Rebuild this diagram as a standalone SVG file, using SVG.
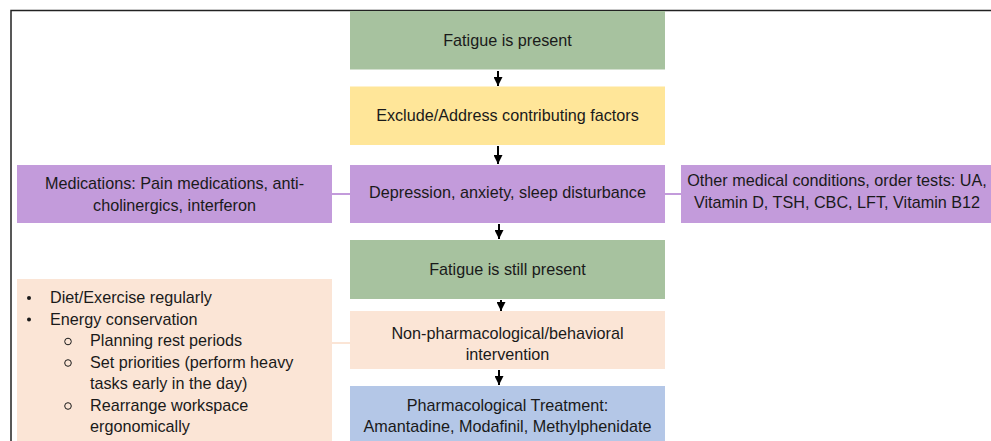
<svg xmlns="http://www.w3.org/2000/svg" width="991" height="441" viewBox="0 0 991 441">
<defs>
<style>
text{font-family:"Liberation Sans",Arial,sans-serif;font-size:16.2px;fill:#1a1a1a}
.c{text-anchor:middle}
.green{fill:#A7C29F}
.yellow{fill:#FFE699}
.purple{fill:#C39BDB}
.peach{fill:#FBE5D6}
.blue{fill:#B4C7E7}
.arrow{stroke:#000;stroke-width:2;fill:none;marker-end:url(#ah)}
.link{stroke-width:2;fill:none}
</style>
<marker id="ah" viewBox="0 0 10 10" refX="10" refY="5" markerWidth="4.5" markerHeight="4.5" markerUnits="strokeWidth" orient="auto">
<path d="M0,0 L10,5 L0,10 z" fill="#000"/>
</marker>
</defs>
<rect width="991" height="441" fill="#fff"/>
<g id="frame">
<path d="M11,441 V10.5 H991" stroke="#222" stroke-width="1.5" fill="none"/>
</g>
<g id="connectors">
<line class="link" x1="332" y1="194" x2="350" y2="194" stroke="#C39BDB"/>
<line class="link" x1="665" y1="194" x2="681" y2="194" stroke="#C39BDB"/>
<line class="link" x1="332" y1="343" x2="350" y2="343" stroke="#FBE5D6"/>
<line class="arrow" x1="498" y1="71" x2="498" y2="86"/>
<line class="arrow" x1="498" y1="146" x2="498" y2="164"/>
<line class="arrow" x1="499" y1="224" x2="499" y2="239"/>
<line class="arrow" x1="501" y1="300" x2="501" y2="311"/>
<line class="arrow" x1="499" y1="370" x2="499" y2="385"/>
</g>
<g id="fatigue-present">
<rect class="green" x="350" y="11" width="315" height="58.5"/>
<text class="c" x="507.5" y="45.5">Fatigue is present</text>
</g>
<g id="exclude">
<rect class="yellow" x="350" y="86.5" width="315" height="58.5"/>
<text class="c" x="507.5" y="121">Exclude/Address contributing factors</text>
</g>
<g id="depression">
<rect class="purple" x="350" y="165" width="315" height="58"/>
<text class="c" x="507.5" y="197.5">Depression, anxiety, sleep disturbance</text>
</g>
<g id="medications">
<rect class="purple" x="17" y="165" width="315" height="58"/>
<text class="c" x="174.5" y="189">Medications: Pain medications, anti-</text>
<text class="c" x="174.5" y="210.5">cholinergics, interferon</text>
</g>
<g id="other-conditions">
<rect class="purple" x="681" y="165" width="310" height="58"/>
<text class="c" x="837" y="186">Other medical conditions, order tests: UA,</text>
<text class="c" x="837" y="207.5">Vitamin D, TSH, CBC, LFT, Vitamin B12</text>
</g>
<g id="fatigue-still">
<rect class="green" x="350" y="240" width="315" height="59"/>
<text class="c" x="507.5" y="275">Fatigue is still present</text>
</g>
<g id="non-pharm">
<rect class="peach" x="350" y="311" width="315" height="58"/>
<text class="c" x="507.5" y="338.5">Non-pharmacological/behavioral</text>
<text class="c" x="507.5" y="360">intervention</text>
</g>
<g id="pharm">
<rect class="blue" x="350" y="386" width="315" height="55"/>
<text class="c" x="507.5" y="410.5">Pharmacological Treatment:</text>
<text class="c" x="507.5" y="432">Amantadine, Modafinil, Methylphenidate</text>
</g>
<g id="lifestyle">
<rect class="peach" x="17" y="279" width="315" height="162"/>
<circle cx="29" cy="298" r="2" fill="#1a1a1a"/>
<text x="50" y="303">Diet/Exercise regularly</text>
<circle cx="29" cy="319.5" r="2" fill="#1a1a1a"/>
<text x="50" y="324.5">Energy conservation</text>
<circle cx="68" cy="341.5" r="3.3" fill="none" stroke="#1a1a1a" stroke-width="1"/>
<text x="90" y="346">Planning rest periods</text>
<circle cx="68" cy="363" r="3.3" fill="none" stroke="#1a1a1a" stroke-width="1"/>
<text x="90" y="367.5">Set priorities (perform heavy</text>
<text x="90" y="389">tasks early in the day)</text>
<circle cx="68" cy="406" r="3.3" fill="none" stroke="#1a1a1a" stroke-width="1"/>
<text x="90" y="410.5">Rearrange workspace</text>
<text x="90" y="432">ergonomically</text>
</g>
</svg>
